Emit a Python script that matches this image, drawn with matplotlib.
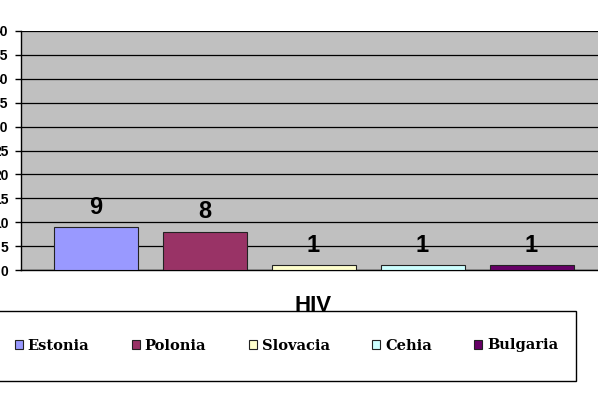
import matplotlib.pyplot as plt
from matplotlib.patches import Rectangle

# chart data
countries = ["Estonia", "Polonia", "Slovacia", "Cehia", "Bulgaria"]
cases = [9, 8, 1, 1, 1]
colors = ["#9999FF", "#993366", "#FFFFCC", "#CCFFFF", "#660066"]
category = "HIV"
y_ticks = list(range(0, 51, 5))

W, H = 598, 394
fig = plt.figure(figsize=(W / 100, H / 100), dpi=100)

# plot area runs past the right edge of the picture, like the cropped original
ax = fig.add_axes([21 / W, 124 / H, 585 / W, 239 / H])
ax.set_facecolor("#C0C0C0")

bar_w = 84 / 585
step = 109 / 585
bars = []
for i, (name, val, col) in enumerate(zip(countries, cases, colors)):
    x = (i - 2) * step
    b = ax.bar(x, val, width=bar_w, color=col, edgecolor="#222222",
               linewidth=0.8, label=name, zorder=3)
    bars.append(b)
    ax.annotate(str(val), (x, val), xytext=(0, 6), textcoords="offset points",
                ha="center", va="bottom", fontsize=17, fontweight="bold",
                family="Liberation Sans")

ax.set_xlim(-0.5, 0.5)
ax.set_ylim(0, 50)
ax.set_yticks(y_ticks)
ax.set_yticklabels([str(t) for t in y_ticks], fontsize=10, fontweight="bold",
                   family="Liberation Sans")
ax.tick_params(axis="y", direction="out", length=4, width=1, pad=5)
ax.set_xticks([0])
ax.set_xticklabels([category], fontsize=16, fontweight="bold",
                   family="Liberation Sans")
ax.tick_params(axis="x", length=0, pad=18)

ax.yaxis.grid(True, color="black", linewidth=0.9, zorder=1)
ax.set_axisbelow(True)
for s in ["top", "right"]:
    ax.spines[s].set_visible(False)
ax.spines["left"].set_linewidth(1)
ax.spines["bottom"].set_linewidth(1)

# legend box
fig.patches.append(Rectangle((-3 / W, 13 / H), 579 / W, 70 / H,
                             transform=fig.transFigure, fill=False,
                             edgecolor="black", linewidth=1))
fig.legend(handles=bars, labels=countries, loc="center",
           bbox_to_anchor=(286.5 / W, 48.5 / H), ncol=5, frameon=False,
           prop={"family": "DejaVu Serif", "weight": "bold", "size": 10.5},
           handlelength=0.55, handleheight=0.55, handletextpad=0.35,
           columnspacing=2.9)

fig.savefig("out.png", dpi=100)
